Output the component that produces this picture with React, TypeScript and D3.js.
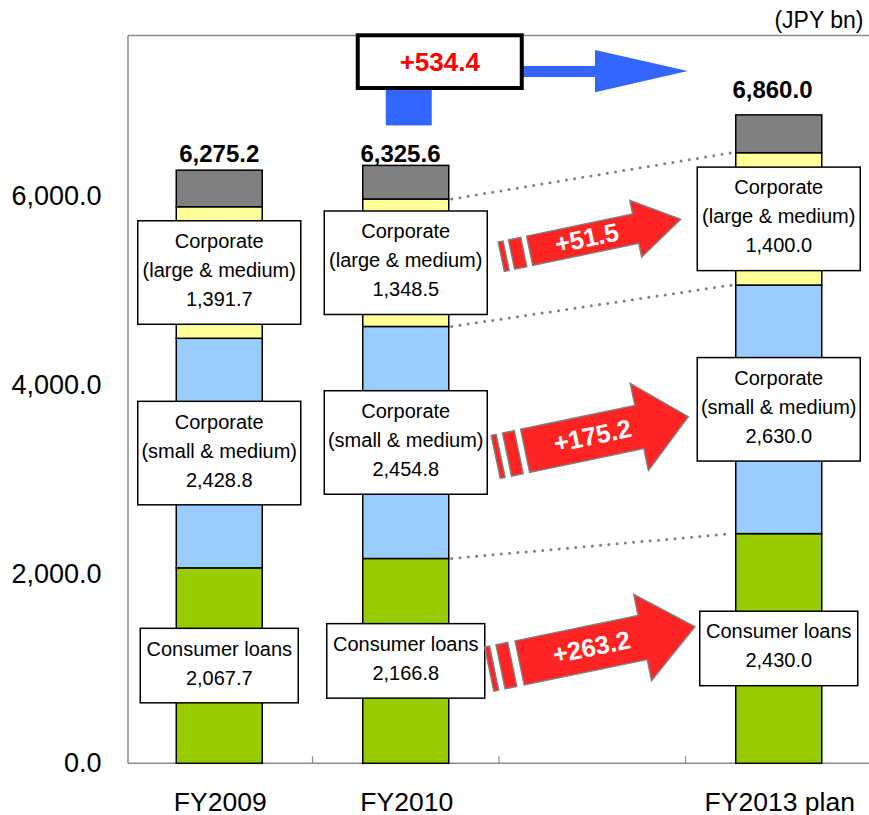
import React, { useEffect } from "react";
import * as d3 from "d3";

// ---- data -------------------------------------------------------------
const categories = ["FY2009", "FY2010", "FY2013 plan"];
// the x axis keeps an empty slot between FY2010 and the FY2013 plan
const xSlots = ["FY2009", "FY2010", "", "FY2013 plan"];
const consumerLoans = [2067.7, 2166.8, 2430.0];
const corporateSmall = [2428.8, 2454.8, 2630.0];
const corporateLarge = [1391.7, 1348.5, 1400.0];
const otherLoans = [387.0, 355.5, 400.0];
const totals = [6275.2, 6325.6, 6860.0];
const yTickValues = [0, 2000, 4000, 6000];
const unitLabel = "(JPY bn)";

const segmentKeys = ["consumer", "small", "large", "other"];
const segmentNames: (string[] | null)[] = [
  ["Consumer loans"],
  ["Corporate", "(small & medium)"],
  ["Corporate", "(large & medium)"],
  null,
];
const segmentValues = [consumerLoans, corporateSmall, corporateLarge, otherLoans];

// ---- styles / layout --------------------------------------------------
const segmentColors = ["#99CC00", "#99CCFF", "#FFFF99", "#808080"];
const FONT = "'Liberation Sans', Arial, sans-serif";
const W = 869;
const H = 815;
const plotLeft = 128;
const plotTop = 35.5;
const plotBottom = 763.3;
const barWidth = 86;

// nudges of the total labels relative to the bar top (text centre)
const totalNudge = [
  [0, -16.5],
  [-5.3, -11.6],
  [-6.3, -25.4],
];

// growth arrows FY2010 -> FY2013 plan, one per labelled segment
const arrowLayout = [
  { seg: 0, tail: [4.5, 8.3], tip: [-4.75, -21.8], w: 45, hw: 88, hl: 53.5, s1: 5, g: 6.5, s2: 12, body: 31, textU: 104.6 },
  { seg: 1, tail: [8.5, 14.5], tip: [-9, 7.4], w: 44, hw: 89, hl: 50, s1: 5, g: 6.5, s2: 12, body: 30, textU: 99 },
  { seg: 2, tail: [14, -6], tip: [-16.5, 0.4], w: 30, hw: 58, hl: 46, s1: 5, g: 5.5, s2: 12.5, body: 29, textU: 87.5 },
];

const fmt = d3.format(",.1f");
const fmtDelta = d3.format("+.1f");

export default function App() {
  useEffect(() => {
    document.body.style.margin = "0";
  }, []);

  const x = d3.scaleBand<string>().domain(xSlots).range([126, 872]);
  const y = d3.scaleLinear().domain([0, 7700]).range([plotBottom, plotTop]);

  const rows = categories.map((c, i) => {
    const r: Record<string, any> = { cat: c };
    segmentKeys.forEach((k, j) => (r[k] = segmentValues[j][i]));
    return r;
  });
  const stacked = d3.stack<Record<string, any>>().keys(segmentKeys)(rows);

  const barX = (c: string) => (x(c) as number) + (x.bandwidth() - barWidth) / 2;
  const barCx = (c: string) => barX(c) + barWidth / 2;

  // label box geometry for segment j of category i
  const box = (j: number, i: number) => {
    const lines = segmentNames[j] as string[];
    const nLines = lines.length + 1;
    const bw = nLines === 3 ? 163 : 158;
    const bh = nLines === 3 ? 103.5 : 74.5;
    const [y0, y1] = stacked[j][i];
    const cy = y((y0 + y1) / 2);
    const cx = barCx(categories[i]);
    return { x: cx - bw / 2, y: cy - bh / 2, w: bw, h: bh, cx, cy, lines: [...lines, fmt(segmentValues[j][i])] };
  };

  const i10 = 1;
  const i13 = 2;

  const arrowPath = (a: typeof arrowLayout[0], L: number) => {
    const { w, hw, hl, body } = a;
    const pts = [
      [body, -w / 2],
      [L - hl, -w / 2],
      [L - hl, -hw / 2],
      [L, 0],
      [L - hl, hw / 2],
      [L - hl, w / 2],
      [body, w / 2],
    ];
    return d3.line()(pts as [number, number][]) + "Z";
  };

  const totalChange = totals[i13] - totals[i10];

  // blue elbow arrow and change box over the FY2010 bar
  const c10 = barCx(categories[i10]);
  const changeBox = { x: c10 - 48, y: 35.3, w: 164, h: 52.7 };
  const elbowX = c10 + 3;
  const elbowBottom = y(totals[i10]) - 40;
  const shaftY = 71.5;
  const headBase = 595;
  const headTip = barX(categories[i13]) - 48;

  return (
    <svg width={W} height={H} style={{ position: "absolute", left: 0, top: 0, background: "#fff" }} fontFamily={FONT}>
      {/* frame */}
      <line x1={plotLeft} x2={W} y1={plotTop} y2={plotTop} stroke="#8a8a8a" strokeWidth={1.5} />
      <line x1={plotLeft} x2={plotLeft} y1={plotTop} y2={plotBottom} stroke="#8a8a8a" strokeWidth={1.5} />
      <line x1={plotLeft} x2={W} y1={plotBottom} y2={plotBottom} stroke="#8a8a8a" strokeWidth={1.5} />
      {xSlots.slice(1).map((s) => (
        <line key={s + "t"} x1={x(s) as number} x2={x(s) as number} y1={plotBottom} y2={plotBottom - 7} stroke="#8a8a8a" strokeWidth={1.2} />
      ))}

      {/* y axis labels */}
      {yTickValues.map((v) => (
        <text key={v} x={101.5} y={y(v) - 0.5} dy="0.35em" textAnchor="end" fontSize={27} fill="#000">
          {fmt(v)}
        </text>
      ))}
      {/* x axis labels */}
      {categories.map((c) => (
        <text key={c} x={barCx(c) + 1} y={810.5} textAnchor="middle" fontSize={26.5} fill="#000">
          {c}
        </text>
      ))}
      <text x={863.5} y={28} textAnchor="end" fontSize={23} fill="#000">
        {unitLabel}
      </text>

      {/* stacked bars */}
      {stacked.map((series, j) =>
        series.map((d, i) => (
          <rect
            key={j + "-" + i}
            x={barX(categories[i])}
            y={y(d[1])}
            width={barWidth}
            height={y(d[0]) - y(d[1])}
            fill={segmentColors[j]}
            stroke="#000"
            strokeWidth={1.5}
          />
        ))
      )}

      {/* dotted connectors FY2010 -> FY2013 plan */}
      {[0, 1, 2].map((j) => (
        <line
          key={"dot" + j}
          x1={barX(categories[i10]) + barWidth + 3}
          y1={y(stacked[j][i10][1])}
          x2={barX(categories[i13]) - 4}
          y2={y(stacked[j][i13][1])}
          stroke="#7f7f7f"
          strokeWidth={3}
          strokeLinecap="round"
          strokeDasharray="0 8.3"
        />
      ))}

      {/* segment label boxes */}
      {[0, 1, 2].map((j) =>
        categories.map((c, i) => {
          const b = box(j, i);
          const n = b.lines.length;
          return (
            <g key={"box" + j + i}>
              <rect x={b.x} y={b.y} width={b.w} height={b.h} fill="#fff" stroke="#000" strokeWidth={1.5} />
              {b.lines.map((t, k) => (
                <text
                  key={k}
                  x={b.cx}
                  y={b.cy + (k - (n - 1) / 2) * 29 - 2.5}
                  dy="0.35em"
                  textAnchor="middle"
                  fontSize={20}
                  fill="#000"
                >
                  {t}
                </text>
              ))}
            </g>
          );
        })
      )}

      {/* totals */}
      {categories.map((c, i) => (
        <text
          key={"tot" + c}
          x={barCx(c) + totalNudge[i][0]}
          y={y(totals[i]) + totalNudge[i][1]}
          dy="0.35em"
          textAnchor="middle"
          fontSize={24}
          fontWeight="bold"
          fill="#000"
        >
          {fmt(totals[i])}
        </text>
      ))}

      {/* growth arrows */}
      {arrowLayout.map((a) => {
        const from = box(a.seg, i10);
        const to = box(a.seg, i13);
        const tx = from.x + from.w + a.tail[0];
        const ty = from.cy + a.tail[1];
        const px = to.x + a.tip[0];
        const py = to.cy + a.tip[1];
        const L = Math.hypot(px - tx, py - ty);
        const ang = (Math.atan2(py - ty, px - tx) * 180) / Math.PI;
        const delta = segmentValues[a.seg][i13] - segmentValues[a.seg][i10];
        return (
          <g key={"arr" + a.seg} transform={`translate(${tx},${ty}) rotate(${ang})`}>
            <rect x={0} y={-a.w / 2} width={a.s1} height={a.w} fill="#FF2424" stroke="#7f7f7f" strokeWidth={1.4} />
            <rect x={a.s1 + a.g} y={-a.w / 2} width={a.s2} height={a.w} fill="#FF2424" stroke="#7f7f7f" strokeWidth={1.4} />
            <path d={arrowPath(a, L)} fill="#FF2424" stroke="#7f7f7f" strokeWidth={1.4} strokeLinejoin="miter" />
            <text x={a.textU} y={-1} dy="0.35em" textAnchor="middle" fontSize={25.5} fontWeight="bold" fill="#fff">
              {fmtDelta(delta)}
            </text>
          </g>
        );
      })}

      {/* total change: elbow arrow and box */}
      <rect x={elbowX - 23} y={changeBox.y + changeBox.h} width={46} height={elbowBottom - (changeBox.y + changeBox.h)} fill="#3366FF" />
      <path
        d={`M${changeBox.x + 100},${shaftY - 5.5} L${headBase},${shaftY - 5.5} L${headBase},${shaftY - 21.5} L${headTip},${shaftY - 0.5} L${headBase},${shaftY + 20.8} L${headBase},${shaftY + 5.5} L${changeBox.x + 100},${shaftY + 5.5} Z`}
        fill="#3366FF"
      />
      <rect x={changeBox.x} y={changeBox.y} width={changeBox.w} height={changeBox.h} fill="#fff" stroke="#000" strokeWidth={4} />
      <text
        x={changeBox.x + changeBox.w / 2}
        y={changeBox.y + changeBox.h / 2 + 0.5}
        dy="0.35em"
        textAnchor="middle"
        fontSize={26}
        fontWeight="bold"
        fill="#FF0000"
      >
        {fmtDelta(totalChange)}
      </text>
    </svg>
  );
}
